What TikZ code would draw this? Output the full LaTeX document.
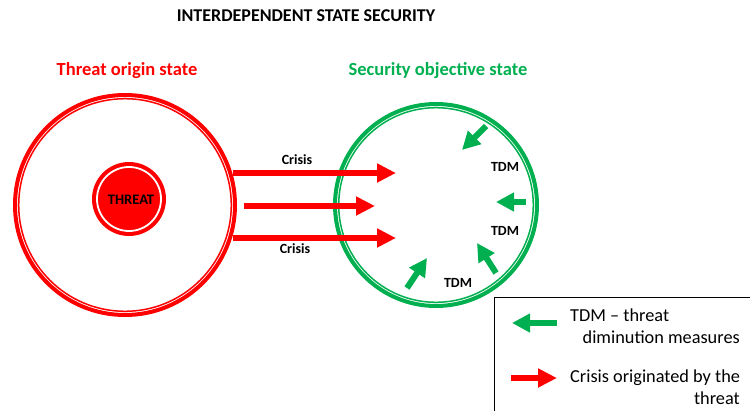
\documentclass[tikz,border=0pt]{standalone}
\usepackage{fontspec}
\setmainfont{Carlito}
\usetikzlibrary{arrows.meta}
\definecolor{threatred}{HTML}{FF0000}
\definecolor{secgreen}{HTML}{00B050}
\tikzset{
  crisis/.style={draw=threatred, line width=6pt, -{Triangle[length=19pt,width=18pt]}},
  tdm/.style={draw=secgreen, line width=6pt, -{Triangle[length=18pt,width=18pt]}},
  heading/.style={font=\bfseries\fontsize{18.5}{22}\selectfont, inner sep=0pt},
  lbl/.style={font=\bfseries\fontsize{14}{17}\selectfont, inner sep=0pt},
  legtext/.style={font=\fontsize{18.3}{22}\selectfont, inner sep=0pt},
}
\begin{document}
\begin{tikzpicture}[x=1pt, y=-1pt]
\useasboundingbox (0,0) rectangle (750,410);
\fill[white] (0,0) rectangle (750,410);

% title and state headings
\node[heading, font=\bfseries\fontsize{18}{21}\selectfont] (title) at (306,16) {INTERDEPENDENT STATE SECURITY};
\node[heading, text=threatred] (origin) at (127,71) {Threat origin state};
\node[heading, text=secgreen] (objective) at (438,71) {Security objective state};

% threat origin state: double red ring
\node[circle, draw=threatred, line width=4pt, minimum size=220pt, inner sep=0pt] (os) at (125,205) {};
\draw[threatred, line width=1.5pt] (os.center) circle[radius=106.3];

% the threat itself
\node[circle, fill=threatred, minimum size=74pt, inner sep=0pt] (threat) at (129,199) {};
\draw[white, line width=1.8pt] (threat.center) circle[radius=32];
\node[lbl, font=\bfseries\fontsize{14.5}{17}\selectfont] (threatlbl) at (131,200) {THREAT};

% security objective state: double green ring
\node[circle, draw=secgreen, line width=4pt, minimum size=202pt, inner sep=0pt] (ss) at (436,205) {};
\draw[secgreen, line width=1.5pt] (ss.center) circle[radius=97.3];

% crisis arrows
\coordinate (c1s) at (233,173);
\coordinate (c1e) at (396,173);
\coordinate (c2s) at (244,206);
\coordinate (c2e) at (375,206);
\coordinate (c3s) at (233,238);
\coordinate (c3e) at (396,238);
\draw[crisis] (c1s) -- (c1e);
\draw[crisis] (c2s) -- (c2e);
\draw[crisis] (c3s) -- (c3e);
\node[lbl] (crisis1) at (297,160) {Crisis};
\node[lbl] (crisis2) at (295,249) {Crisis};

% threat diminution measures
\coordinate (t1s) at (486,126);
\coordinate (t1e) at (462,150);
\coordinate (t2s) at (526,202);
\coordinate (t2e) at (496,202);
\coordinate (t3s) at (496,273);
\coordinate (t3e) at (477,243);
\coordinate (t4s) at (407,288);
\coordinate (t4e) at (427,258);
\draw[tdm] (t1s) -- (t1e);
\draw[tdm] (t2s) -- (t2e);
\draw[tdm] (t3s) -- (t3e);
\draw[tdm] (t4s) -- (t4e);
\node[lbl] (tdm1) at (505,167) {TDM};
\node[lbl] (tdm2) at (505,231) {TDM};
\node[lbl] (tdm3) at (458,283) {TDM};

% legend
\draw[black, line width=0.8pt] (494,297) rectangle (760,420);
\coordinate (lgs) at (557,323);
\coordinate (lge) at (512,323);
\coordinate (lrs) at (511,378);
\coordinate (lre) at (557,378);
\draw[tdm] (lgs) -- (lge);
\draw[crisis] (lrs) -- (lre);
\node[legtext, anchor=west] (leg1) at (570,315) {TDM -- threat};
\node[legtext, anchor=east] (leg2) at (740,337) {diminution measures};
\node[legtext, anchor=west] (leg3) at (570,378) {Crisis originated by the};
\node[legtext, anchor=east] (leg4) at (740,398) {threat};
\end{tikzpicture}
\end{document}
